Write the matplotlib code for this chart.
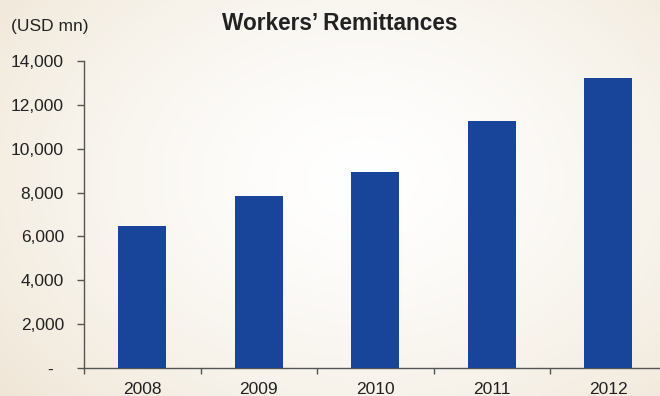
import numpy as np
import matplotlib.pyplot as plt
from matplotlib.ticker import FixedLocator, FuncFormatter

years = ['2008', '2009', '2010', '2011', '2012']
remittances = [6475, 7840, 8940, 11260, 13220]
yticks = [0, 2000, 4000, 6000, 8000, 10000, 12000, 14000]

plt.rcParams['font.family'] = ['Liberation Sans', 'DejaVu Sans']

fig = plt.figure(figsize=(6.6, 3.96), dpi=100)

# soft cream background, lighter towards the middle
bg = fig.add_axes([0, 0, 1, 1], zorder=-10)
yy, xx = np.mgrid[0:1:200j, 0:1:330j]
d = np.sqrt(((xx - 0.55) / 0.7) ** 2 + ((yy - 0.45) / 0.85) ** 2)
d = np.clip(d, 0, 1) ** 1.5
edge = np.array([0.94, 0.905, 0.845])
centre = np.array([1.0, 1.0, 1.0])
img = centre + (edge - centre) * d[..., None]
bg.imshow(img, extent=[0, 1, 0, 1], aspect='auto', origin='upper')
bg.axis('off')

ax = fig.add_axes([0.1273, 0.0707, 0.8826, 0.7753])
ax.patch.set_alpha(0)
x = np.arange(len(years))
ax.bar(x, remittances, width=0.41, color='#18459A', zorder=3)

ax.set_xlim(-0.5, 4.5)
ax.set_ylim(0, 14000)

for s in ['top', 'right']:
    ax.spines[s].set_visible(False)
for s in ['left', 'bottom']:
    ax.spines[s].set_color('#555555')
    ax.spines[s].set_linewidth(1.0)

ax.yaxis.set_major_locator(FixedLocator(yticks))
ax.yaxis.set_major_formatter(FuncFormatter(lambda v, p: '-  ' if v == 0 else f'{int(v):,}'))
ax.tick_params(axis='y', direction='out', length=5, width=1, color='#555555',
               labelsize=12.5, labelcolor='#222222', pad=9.5)

ax.set_xticks(x)
ax.set_xticklabels(years)
ax.set_xticks(np.arange(-0.5, 5.0, 1.0), minor=True)
ax.tick_params(axis='x', which='major', length=0, labelsize=12.5,
               labelcolor='#222222', pad=10)
ax.tick_params(axis='x', which='minor', direction='out', length=4, width=1,
               color='#555555')

fig.text(0.515, 0.94, 'Workers\u2019 Remittances', ha='center', va='center',
         fontsize=16.3, fontweight='bold', color='#222222')
fig.text(0.017, 0.934, '(USD mn)', ha='left', va='center', fontsize=12.5,
         color='#222222')

fig.savefig('out.png', dpi=100)
